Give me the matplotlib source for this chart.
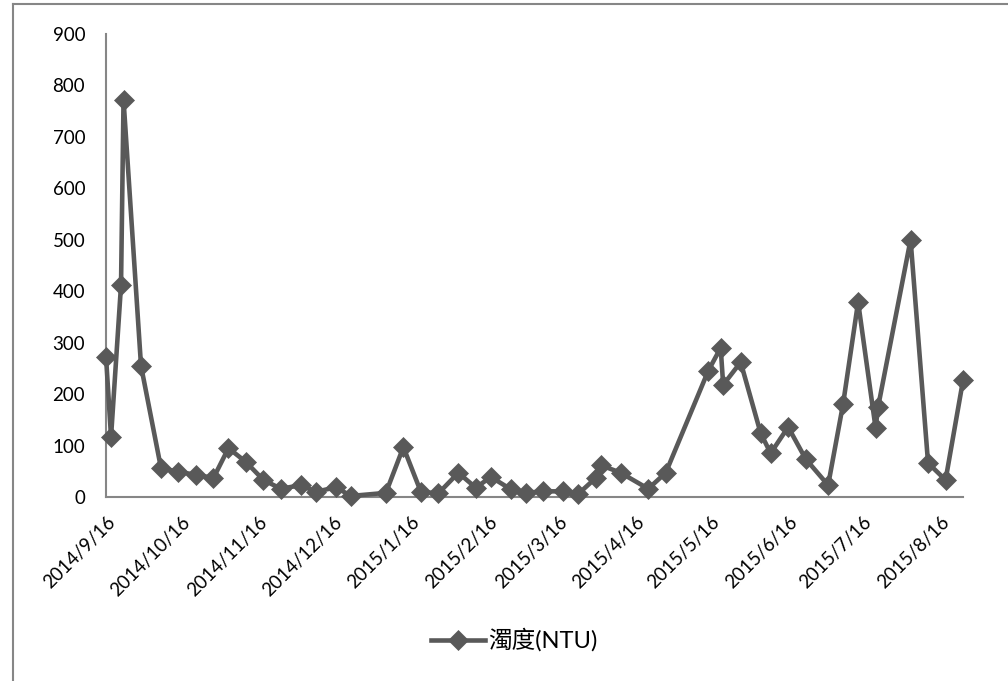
import pandas as pd
import matplotlib
matplotlib.use("Agg")
import matplotlib.pyplot as plt
import matplotlib.dates as mdates
from matplotlib.lines import Line2D

plt.rcParams['font.family'] = ['Lato', 'Noto Sans CJK TC', 'DejaVu Sans']

dates = [
    "2014-09-16", "2014-09-18", "2014-09-22", "2014-09-23", "2014-09-30",
    "2014-10-08", "2014-10-15", "2014-10-22", "2014-10-29", "2014-11-04",
    "2014-11-11", "2014-11-18", "2014-11-25", "2014-12-03", "2014-12-09",
    "2014-12-17", "2014-12-23", "2015-01-06", "2015-01-13", "2015-01-20",
    "2015-01-27", "2015-02-04", "2015-02-11", "2015-02-17", "2015-02-25",
    "2015-03-03", "2015-03-10", "2015-03-18", "2015-03-24", "2015-03-31",
    "2015-04-02", "2015-04-10", "2015-04-21", "2015-04-28", "2015-05-15",
    "2015-05-20", "2015-05-21", "2015-05-28", "2015-06-05", "2015-06-09",
    "2015-06-16", "2015-06-23", "2015-07-02", "2015-07-08", "2015-07-14",
    "2015-07-21", "2015-07-22", "2015-08-04", "2015-08-11", "2015-08-18",
    "2015-08-25",
]
turbidity = [
    272, 117, 412, 772, 255,
    56, 49, 43, 37, 95,
    68, 33, 16, 23, 10,
    19, 2, 8, 97, 10,
    7, 47, 18, 39, 15,
    8, 11, 11, 6, 37,
    62, 47, 16, 47, 245,
    290, 218, 262, 124, 85,
    136, 74, 23, 181, 379,
    134, 175, 500, 66, 33,
    227,
]
tick_dates = ["2014-09-16", "2014-10-16", "2014-11-16", "2014-12-16",
              "2015-01-16", "2015-02-16", "2015-03-16", "2015-04-16",
              "2015-05-16", "2015-06-16", "2015-07-16", "2015-08-16"]

x = pd.to_datetime(dates)
ticks = pd.to_datetime(tick_dates)
line_color = "#595959"
axis_color = "#868686"

fig = plt.figure(figsize=(10.08, 6.81), dpi=100)
ax = fig.add_axes([0.1052, 0.2702, 0.8502, 0.6799])

ax.plot(x, turbidity, color=line_color, lw=3.3, marker='D', ms=10,
        markeredgewidth=0.5, markeredgecolor=line_color, label='濁度(NTU)',
        clip_on=False, zorder=3)

ax.set_xlim(x[0], x[-1])
ax.set_ylim(0, 900)
ax.set_yticks(range(0, 901, 100))
ax.set_xticks(ticks)
ax.xaxis.set_major_formatter(mdates.DateFormatter('%Y/%-m/%-d'))
for lbl in ax.get_xticklabels():
    lbl.set_rotation(45)
    lbl.set_ha('right')
    lbl.set_rotation_mode('anchor')

ax.tick_params(axis='both', length=0, labelsize=13.5, colors='black')
ax.tick_params(axis='y', pad=15)
ax.tick_params(axis='x', pad=12)

for side in ['top', 'right']:
    ax.spines[side].set_visible(False)
for side in ['left', 'bottom']:
    ax.spines[side].set_color(axis_color)
    ax.spines[side].set_linewidth(1.5)

# chart area border
fig.add_artist(Line2D([13 / 1008, 13 / 1008], [0, 1 - 4 / 681],
                      transform=fig.transFigure, color=axis_color, lw=1.5))
fig.add_artist(Line2D([13 / 1008, 1], [1 - 4 / 681, 1 - 4 / 681],
                      transform=fig.transFigure, color=axis_color, lw=1.5))

fig.legend(loc='center', bbox_to_anchor=(514 / 1008, 1 - 640 / 681),
           frameon=False, fontsize=17, handlelength=2.3, handletextpad=0.1)

fig.savefig("out.png", dpi=100)
